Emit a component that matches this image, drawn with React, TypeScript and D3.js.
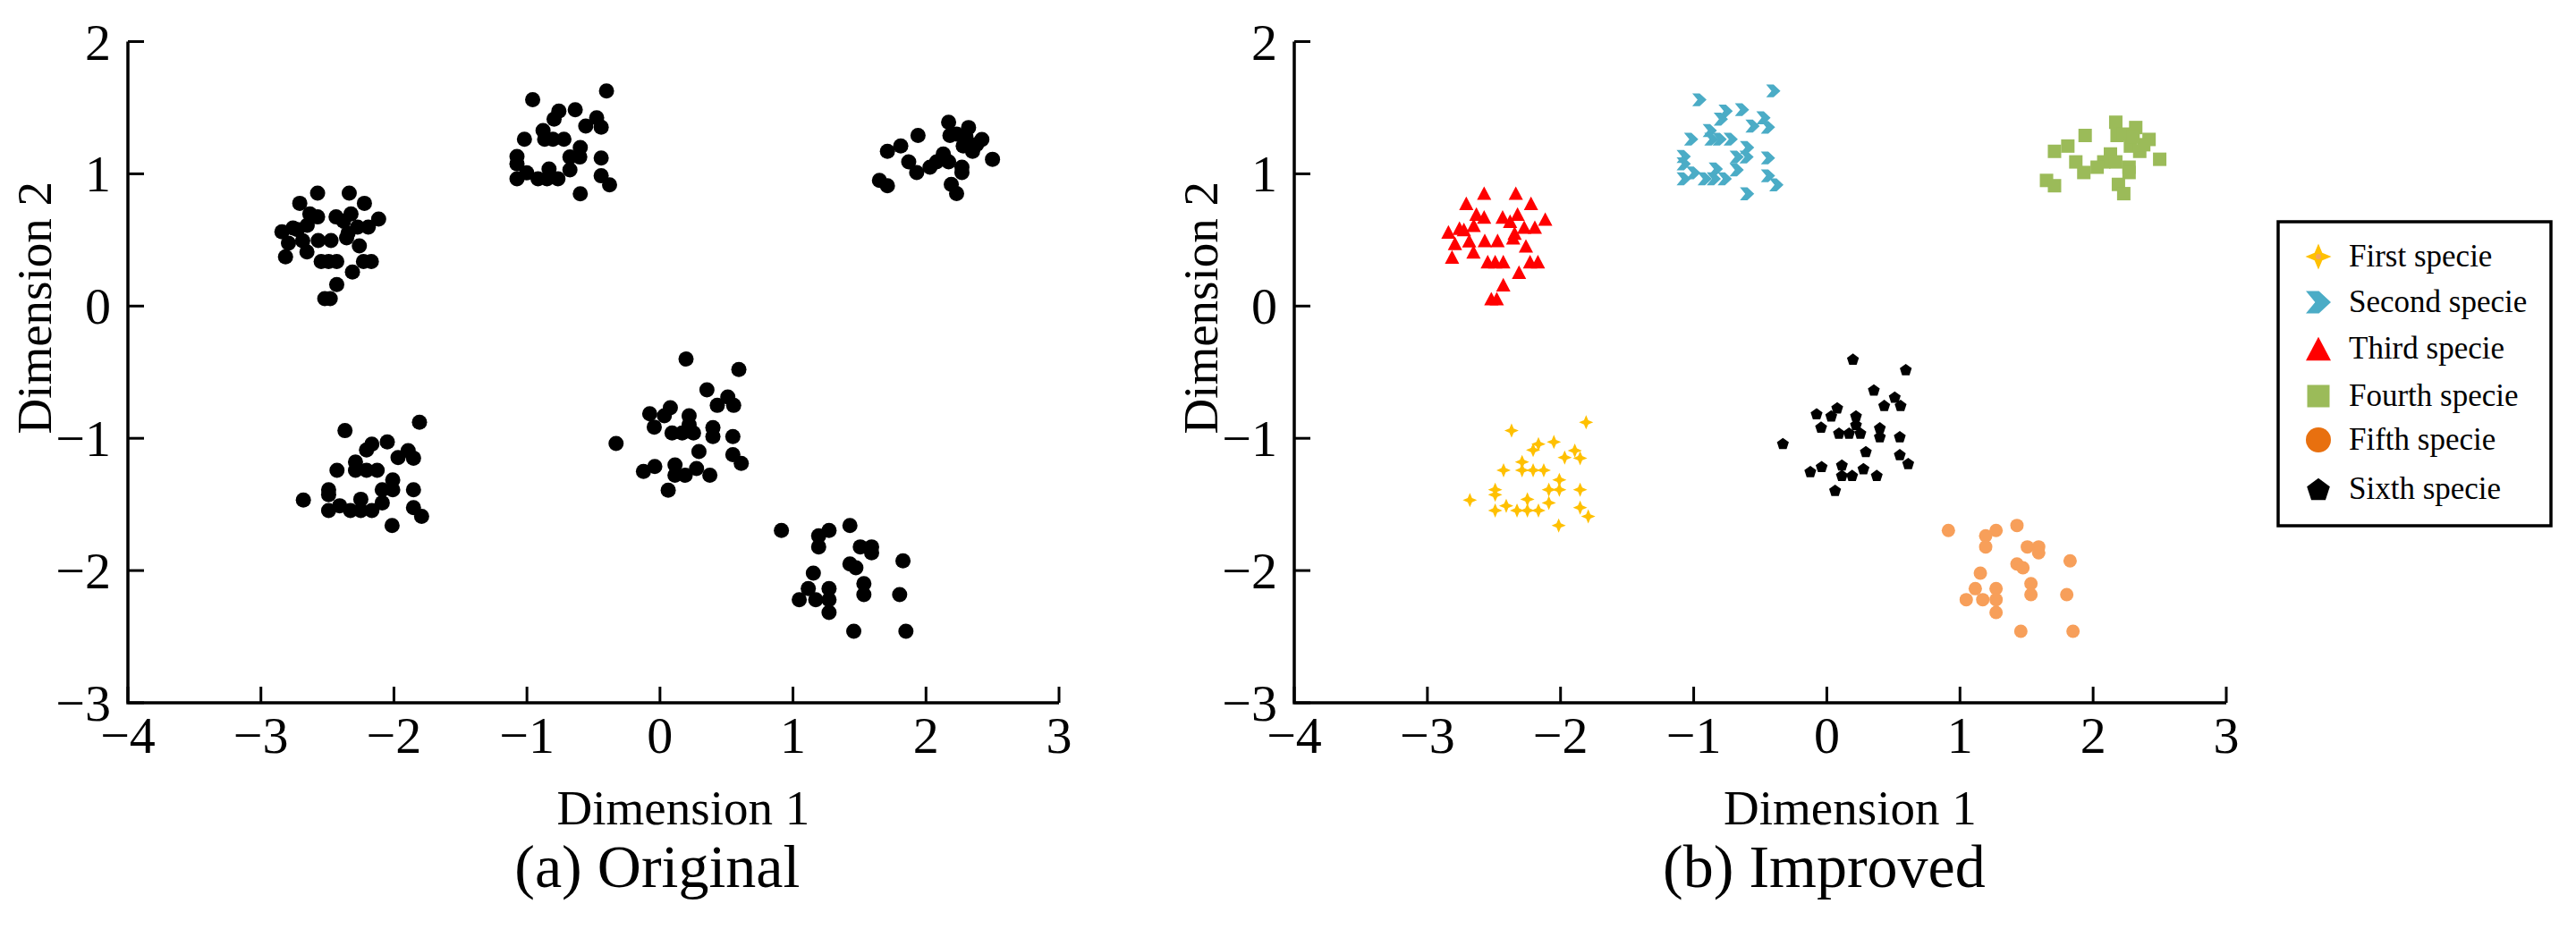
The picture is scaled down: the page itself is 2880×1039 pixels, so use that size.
import React from "react";
import * as d3 from "d3";

// ---------- data (Dimension 1, Dimension 2) ----------
const FIRST: [number, number][] = [
  [-1.808, -0.879], [-2.368, -0.942], [-2.166, -1.044], [-2.206, -1.089], [-2.05, -1.028],
  [-1.893, -1.093], [-1.853, -1.15], [-1.969, -1.145], [-2.289, -1.179], [-2.428, -1.242],
  [-2.289, -1.242], [-2.206, -1.242], [-2.126, -1.242], [-2.009, -1.314], [-2.088, -1.389],
  [-2.009, -1.389], [-1.853, -1.389], [-2.491, -1.389], [-2.491, -1.427], [-2.681, -1.467],
  [-2.249, -1.461], [-2.088, -1.488], [-2.408, -1.51], [-2.491, -1.546], [-2.327, -1.546],
  [-2.249, -1.546], [-2.166, -1.546], [-1.853, -1.524], [-1.792, -1.591], [-2.014, -1.659],
];
const SECOND: [number, number][] = [
  [-0.402, 1.627], [-0.957, 1.56], [-0.76, 1.474], [-0.637, 1.485], [-0.796, 1.413],
  [-0.476, 1.424], [-0.558, 1.361], [-0.442, 1.352], [-0.879, 1.327], [-1.019, 1.262],
  [-0.867, 1.262], [-0.805, 1.262], [-0.722, 1.262], [-0.599, 1.199], [-1.075, 1.131],
  [-0.677, 1.127], [-0.603, 1.127], [-0.442, 1.12], [-1.075, 1.075], [-0.834, 1.037],
  [-0.677, 1.03], [-1.002, 1.007], [-0.442, 0.985], [-1.075, 0.962], [-0.917, 0.962],
  [-0.849, 0.962], [-0.767, 0.962], [-0.379, 0.917], [-0.599, 0.849],
];
const THIRD: [number, number][] = [
  [-2.574, 0.854], [-2.336, 0.854], [-2.708, 0.777], [-2.222, 0.777], [-2.632, 0.696],
  [-2.574, 0.674], [-2.435, 0.674], [-2.323, 0.696], [-2.379, 0.642], [-2.115, 0.658],
  [-2.842, 0.561], [-2.759, 0.59], [-2.726, 0.579], [-2.652, 0.611], [-2.273, 0.597],
  [-2.193, 0.597], [-2.345, 0.552], [-2.356, 0.516], [-2.569, 0.496], [-2.473, 0.496],
  [-2.686, 0.494], [-2.793, 0.475], [-2.26, 0.455], [-2.654, 0.41], [-2.815, 0.372],
  [-2.547, 0.336], [-2.491, 0.336], [-2.43, 0.336], [-2.229, 0.336], [-2.17, 0.336],
  [-2.312, 0.257], [-2.43, 0.162], [-2.52, 0.056], [-2.479, 0.056],
];
const FOURTH: [number, number][] = [
  [2.17, 1.39], [2.32, 1.35], [2.18, 1.29], [2.42, 1.26], [2.28, 1.21],
  [2.35, 1.17], [2.5, 1.11], [2.27, 1.05], [2.27, 1.01], [2.19, 0.92],
  [2.23, 0.85], [2.13, 1.15], [2.08, 1.09], [2.17, 1.09], [2.03, 1.05],
  [1.93, 1.01], [1.87, 1.09], [1.94, 1.29], [1.81, 1.21], [1.71, 1.17],
  [1.65, 0.95], [1.71, 0.91], [2.23, 1.3], [2.38, 1.22], [2.3, 1.28],
];
const FIFTH: [number, number][] = [
  [0.913, -1.697], [1.271, -1.697], [1.193, -1.738], [1.193, -1.821], [1.428, -1.659],
  [1.506, -1.821], [1.591, -1.821], [1.591, -1.866], [1.827, -1.927], [1.428, -1.95],
  [1.473, -1.979], [1.153, -2.02], [1.533, -2.099], [1.533, -2.182], [1.115, -2.137],
  [1.271, -2.137], [1.047, -2.22], [1.171, -2.22], [1.271, -2.22], [1.271, -2.317],
  [1.802, -2.182], [1.457, -2.459], [1.849, -2.459],
];
const SIXTH: [number, number][] = [
  [0.196, -0.401], [0.593, -0.48], [0.353, -0.634], [0.51, -0.688], [0.431, -0.751],
  [0.554, -0.751], [0.078, -0.769], [0.033, -0.83], [-0.077, -0.814], [0.219, -0.83],
  [-0.043, -0.915], [0.091, -0.96], [0.167, -0.96], [0.252, -0.96], [0.219, -0.897],
  [0.398, -0.92], [0.398, -0.987], [0.548, -0.987], [-0.33, -1.039], [0.293, -1.1],
  [0.548, -1.123], [0.611, -1.19], [-0.039, -1.213], [-0.124, -1.251], [0.113, -1.201],
  [0.113, -1.28], [0.19, -1.28], [0.275, -1.229], [0.375, -1.28], [0.062, -1.393],
];

const X_TICKS = [-4, -3, -2, -1, 0, 1, 2, 3];
const Y_TICKS = [-3, -2, -1, 0, 1, 2];
const X_DOMAIN: [number, number] = [-4, 3];
const Y_DOMAIN: [number, number] = [-3, 2];
const SPECIES_NAMES = ["First specie", "Second specie", "Third specie", "Fourth specie", "Fifth specie", "Sixth specie"];

// ---------- styling ----------
const FONT = "'Liberation Serif', 'Times New Roman', serif";
const COLORS = ["#FFC000", "#4BACC6", "#FF0000", "#9BBB59", "#F79F5A", "#000000"];
const LEGEND_COLORS = ["#FFC000", "#4BACC6", "#FF0000", "#9BBB59", "#E8700F", "#000000"];
const ALL = [FIRST, SECOND, THIRD, FOURTH, FIFTH, SIXTH];

// marker path generators (centered at 0,0), s = nominal width
function star4(s: number) {
  const r = s / 2, ri = r * 0.42;
  const pts: string[] = [];
  for (let k = 0; k < 8; k++) {
    const a = -Math.PI / 2 + (k * Math.PI) / 4;
    const rr = k % 2 === 0 ? r : ri;
    pts.push(`${(Math.cos(a) * rr).toFixed(2)},${(Math.sin(a) * rr).toFixed(2)}`);
  }
  return "M" + pts.join("L") + "Z";
}
function chevron(s: number) {
  const w = s, h = s * 0.9;
  return `M${-w / 2},${-h / 2}L${w * 0.02},${-h / 2}L${w / 2},0L${w * 0.02},${h / 2}L${-w / 2},${h / 2}L${-w * 0.13},0Z`;
}
function triangle(s: number) {
  const w = s, h = s * 0.95;
  return `M0,${-h / 2}L${w / 2},${h / 2}L${-w / 2},${h / 2}Z`;
}
function square(s: number) {
  return `M${-s / 2},${-s / 2}h${s}v${s}h${-s}Z`;
}
function circle(s: number) {
  const r = s / 2;
  return `M${-r},0a${r},${r} 0 1,0 ${2 * r},0a${r},${r} 0 1,0 ${-2 * r},0Z`;
}
function pentagon(s: number) {
  const r = s / 2 / Math.sin((2 * Math.PI) / 5) * 0.95;
  const pts: string[] = [];
  for (let k = 0; k < 5; k++) {
    const a = -Math.PI / 2 + (k * 2 * Math.PI) / 5;
    pts.push(`${(Math.cos(a) * r).toFixed(2)},${(Math.sin(a) * r + r * 0.1).toFixed(2)}`);
  }
  return "M" + pts.join("L") + "Z";
}
const SHAPES = [star4, chevron, triangle, square, circle, pentagon];
const PLOT_SIZES = [16, 16, 16, 15, 15, 14];
const LEGEND_SIZES = [29, 28, 28, 25, 28, 27];

type PanelProps = { left: number; right: number; top: number; bottom: number; caption: string; colored: boolean };

function Panel({ left, right, top, bottom, caption, colored }: PanelProps) {
  const x = d3.scaleLinear().domain(X_DOMAIN).range([left, right]);
  const y = d3.scaleLinear().domain(Y_DOMAIN).range([bottom, top]);
  const tickLen = 18;
  return (
    <g fontFamily={FONT} fill="#000">
      {/* points */}
      {ALL.map((ser, si) => (
        <g key={si}>
          {ser.map((p, i) =>
            colored ? (
              <path key={i} d={SHAPES[si](PLOT_SIZES[si])} transform={`translate(${x(p[0])},${y(p[1])})`} fill={COLORS[si]} />
            ) : (
              <circle key={i} cx={x(p[0])} cy={y(p[1])} r={8.5} fill="#000" />
            )
          )}
        </g>
      ))}
      {/* axes */}
      <path d={`M${left},${top}V${bottom}H${right}`} fill="none" stroke="#000" strokeWidth={3.5} />
      {X_TICKS.map((t) => (
        <g key={"x" + t}>
          <line x1={x(t)} x2={x(t)} y1={bottom} y2={bottom - tickLen} stroke="#000" strokeWidth={3} />
          <text x={x(t)} y={bottom + 56} fontSize={58} textAnchor="middle">
            {t < 0 ? "\u2212" + Math.abs(t) : String(t)}
          </text>
        </g>
      ))}
      {Y_TICKS.map((t) => (
        <g key={"y" + t}>
          <line x1={left} x2={left + tickLen} y1={y(t)} y2={y(t)} stroke="#000" strokeWidth={3} />
          <text x={left - 19} y={y(t) + 20} fontSize={58} textAnchor="end">
            {t < 0 ? "\u2212" + Math.abs(t) : String(t)}
          </text>
        </g>
      ))}
      <text x={x(0) + 26} y={922} fontSize={55} textAnchor="middle">Dimension 1</text>
      <text transform={`translate(${left - 86},${y(0) + 2}) rotate(-90)`} fontSize={55} textAnchor="middle">Dimension 2</text>
      <text x={x(0) - 3} y={992} fontSize={68} textAnchor="middle">{caption}</text>
    </g>
  );
}

function Legend() {
  const lx = 2547, ly = 248, lw = 305, lh = 340;
  const rows = [287, 338, 390, 443, 492, 547];
  return (
    <g fontFamily={FONT}>
      <rect x={lx} y={ly} width={lw} height={lh} fill="#fff" stroke="#000" strokeWidth={3.5} />
      {SPECIES_NAMES.map((name, i) => (
        <g key={name}>
          <path d={SHAPES[i](LEGEND_SIZES[i])} transform={`translate(2592,${rows[i]})`} fill={LEGEND_COLORS[i]} />
          {i === 0 && <circle cx={2592} cy={rows[i]} r={3} fill="#F4A460" />}
          <text x={2626} y={rows[i] + 11} fontSize={35} fill="#000">{name}</text>
        </g>
      ))}
    </g>
  );
}

export default function App() {
  return (
    <svg width={2880} height={1039} style={{ position: "absolute", left: 0, top: 0, background: "#fff" }}>
      <rect width={2880} height={1039} fill="#fff" />
      <Panel left={143} right={1184} top={46.5} bottom={786} caption="(a) Original" colored={false} />
      <Panel left={1447} right={2489} top={46.5} bottom={786} caption="(b) Improved" colored={true} />
      <Legend />
    </svg>
  );
}
